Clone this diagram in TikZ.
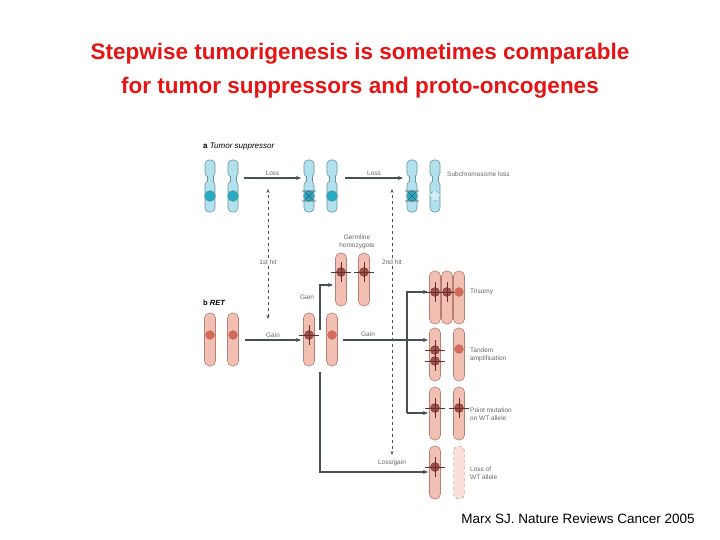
\documentclass[tikz,border=0pt]{standalone}
\usepackage{fontspec}
\setmainfont{Liberation Sans}
\usetikzlibrary{arrows.meta}
\definecolor{tred}{RGB}{230,20,20}
\definecolor{bfill}{RGB}{178,224,236}
\definecolor{bline}{RGB}{100,150,165}
\definecolor{teal1}{RGB}{40,170,195}
\definecolor{pfill}{RGB}{242,192,178}
\definecolor{pline}{RGB}{185,125,115}
\definecolor{mred}{RGB}{215,105,90}
\definecolor{mdark}{RGB}{165,80,75}
\definecolor{arr}{RGB}{70,80,85}
\tikzset{
 lbl/.style={font=\fontsize{6.5}{7.5}\selectfont, text=gray!80!black, inner sep=1pt},
 rlbl/.style={lbl, anchor=west, align=left},
 flow/.style={draw=arr, line width=1.4pt, -{Stealth[length=5pt,width=4pt]}},
 hitl/.style={draw=arr, line width=0.6pt, dashed, -{Stealth[length=4pt,width=3pt]}},
 bch/.style={draw=bline, fill=bfill, line width=0.6pt, rounded corners=4pt},
 pch/.style={draw=pline, fill=pfill, line width=0.6pt, rounded corners=5pt},
}
\newcommand\bchr[2]{%
 \draw[bch] (#1-5,#2) rectangle (#1+5,#2+17);
 \draw[bch] (#1-5,#2+21) rectangle (#1+5,#2+52);
 \fill[bfill] (#1-3,#2+15) rectangle (#1+3,#2+23);
 \draw[bline,line width=0.6pt] (#1-3,#2+16)--(#1-3,#2+22) (#1+3,#2+16)--(#1+3,#2+22);}
\newcommand\bdot[2]{\fill[teal1,draw=bline,line width=0.4pt] (#1,#2) circle (5.5);}
\newcommand\bx[2]{\fill[teal1,draw=bline,line width=0.4pt] (#1,#2) circle (5.5);
 \draw[bline!60!black,line width=0.6pt] (#1-4,#2-4)--(#1+4,#2+4) (#1-4,#2+4)--(#1+4,#2-4) (#1-7,#2-5)--(#1+7,#2-5) (#1-7,#2+5)--(#1+7,#2+5);}
\newcommand\pchr[2]{\draw[pch] (#1-5.5,#2) rectangle (#1+5.5,#2+53);}
\newcommand\pdot[2]{\fill[mred,draw=pline,line width=0.4pt] (#1,#2) circle (4.5);}
\newcommand\pmut[2]{\fill[mdark,draw=mdark!70!black,line width=0.4pt] (#1,#2) circle (4.5);
 \draw[mdark!60!black,line width=0.7pt] (#1-10,#2)--(#1+10,#2) (#1,#2-10)--(#1,#2+10);}
\begin{document}
\begin{tikzpicture}[x=1pt,y=-1pt]
\useasboundingbox (0,0) rectangle (720,540);
\node[font=\bfseries\fontsize{22.5}{34}\selectfont, text=tred, align=center] (title) at (360,71) {Stepwise tumorigenesis is sometimes comparable\\for tumor suppressors and proto-oncogenes};
\node[font=\fontsize{13.5}{15}\selectfont] (cite) at (578,519) {Marx SJ. Nature Reviews Cancer 2005};
\node[anchor=west, font=\fontsize{8}{9}\selectfont, inner sep=0] (la) at (203,147) {\textbf{a} \textit{Tumor suppressor}};
\node[anchor=west, font=\fontsize{7.5}{9}\selectfont, inner sep=0] (lb) at (203,303) {\textbf{b} \textit{\textbf{RET}}};
% panel a chromosomes
\bchr{210}{160}\bdot{210}{196}
\bchr{233}{160}\bdot{233}{196}
\bchr{309}{160}\bx{309}{196}
\bchr{332}{160}\bdot{332}{196}
\bchr{412}{160}\bx{412}{196}
\bchr{435}{160}
\draw[bline,dashed,fill=bfill!60] (435,196) circle (5);
\coordinate (l1s) at (244,178); \coordinate (l1e) at (301,178);
\coordinate (l2s) at (345,178); \coordinate (l2e) at (403,178);
\draw[flow] (l1s)--(l1e) node[lbl,midway,above=1pt] (loss1) {Loss};
\draw[flow] (l2s)--(l2e) node[lbl,midway,above=1pt] (loss2) {Loss};
\node[rlbl] (sub) at (446,174) {Subchromosome loss};
% hits
\node[lbl] (h1) at (268,262) {1st hit};
\node[lbl] (h2) at (392,262) {2nd hit};
\coordinate (h1t) at (268,189); \coordinate (h1b) at (268,319);
\coordinate (h2t) at (392,189); \coordinate (h2b) at (392,455);
\draw[hitl] (h1)--(h1t);
\draw[hitl] (h1)--(h1b);
\draw[hitl] (h2)--(h2t);
\draw[hitl] (h2)--(h2b);
% germline
\node[lbl,align=center] (germ) at (357,242) {Germline\\homozygote};
\pchr{341}{253}\pmut{341}{272}
\pchr{364}{253}\pmut{364}{272}
% panel b
\pchr{210}{313}\pdot{210}{335}
\pchr{233}{313}\pdot{233}{335}
\pchr{309}{313}\pmut{309}{335}
\pchr{332}{313}\pdot{332}{335}
\draw[flow] (245,340)--(301,340) node[lbl,midway,above=1pt] (gain1) {Gain};
\draw[flow] (343,340)--(428,340);
\node[lbl] (gain2) at (368,334) {Gain};
\draw[flow] (320,330)--(320,285)--(333,285);
\node[lbl] (gain3) at (307,297) {Gain};
\draw[flow] (407,413)--(407,292)--(428,292);
\draw[flow] (407,413)--(428,413);
\draw[flow] (320,372)--(320,472)--(428,472);
\node[lbl] (lg) at (392,463) {Loss/gain};
% right column
\pchr{435}{271}\pchr{447}{271}\pchr{459}{271}
\pmut{435}{292}\pmut{447}{292}\pdot{459}{292}
\node[rlbl] (tri) at (469,292) {Trisomy};
\pchr{435}{328}\pchr{459}{328}
\pmut{435}{350}\pmut{435}{361}\pdot{459}{349}
\node[rlbl] (tan) at (469,355) {Tandem\\amplification};
\pchr{435}{387}\pchr{459}{387}
\pmut{435}{408}\pmut{459}{408}
\node[rlbl] (pm) at (469,414) {Point mutation\\on WT allele};
\pchr{435}{446}\pmut{435}{467}
\draw[pline,dashed,fill=pfill!50,rounded corners=5pt] (453.5,446) rectangle (464.5,499);
\node[rlbl] (lw) at (469,473) {Loss of\\WT allele};
\end{tikzpicture}
\end{document}
